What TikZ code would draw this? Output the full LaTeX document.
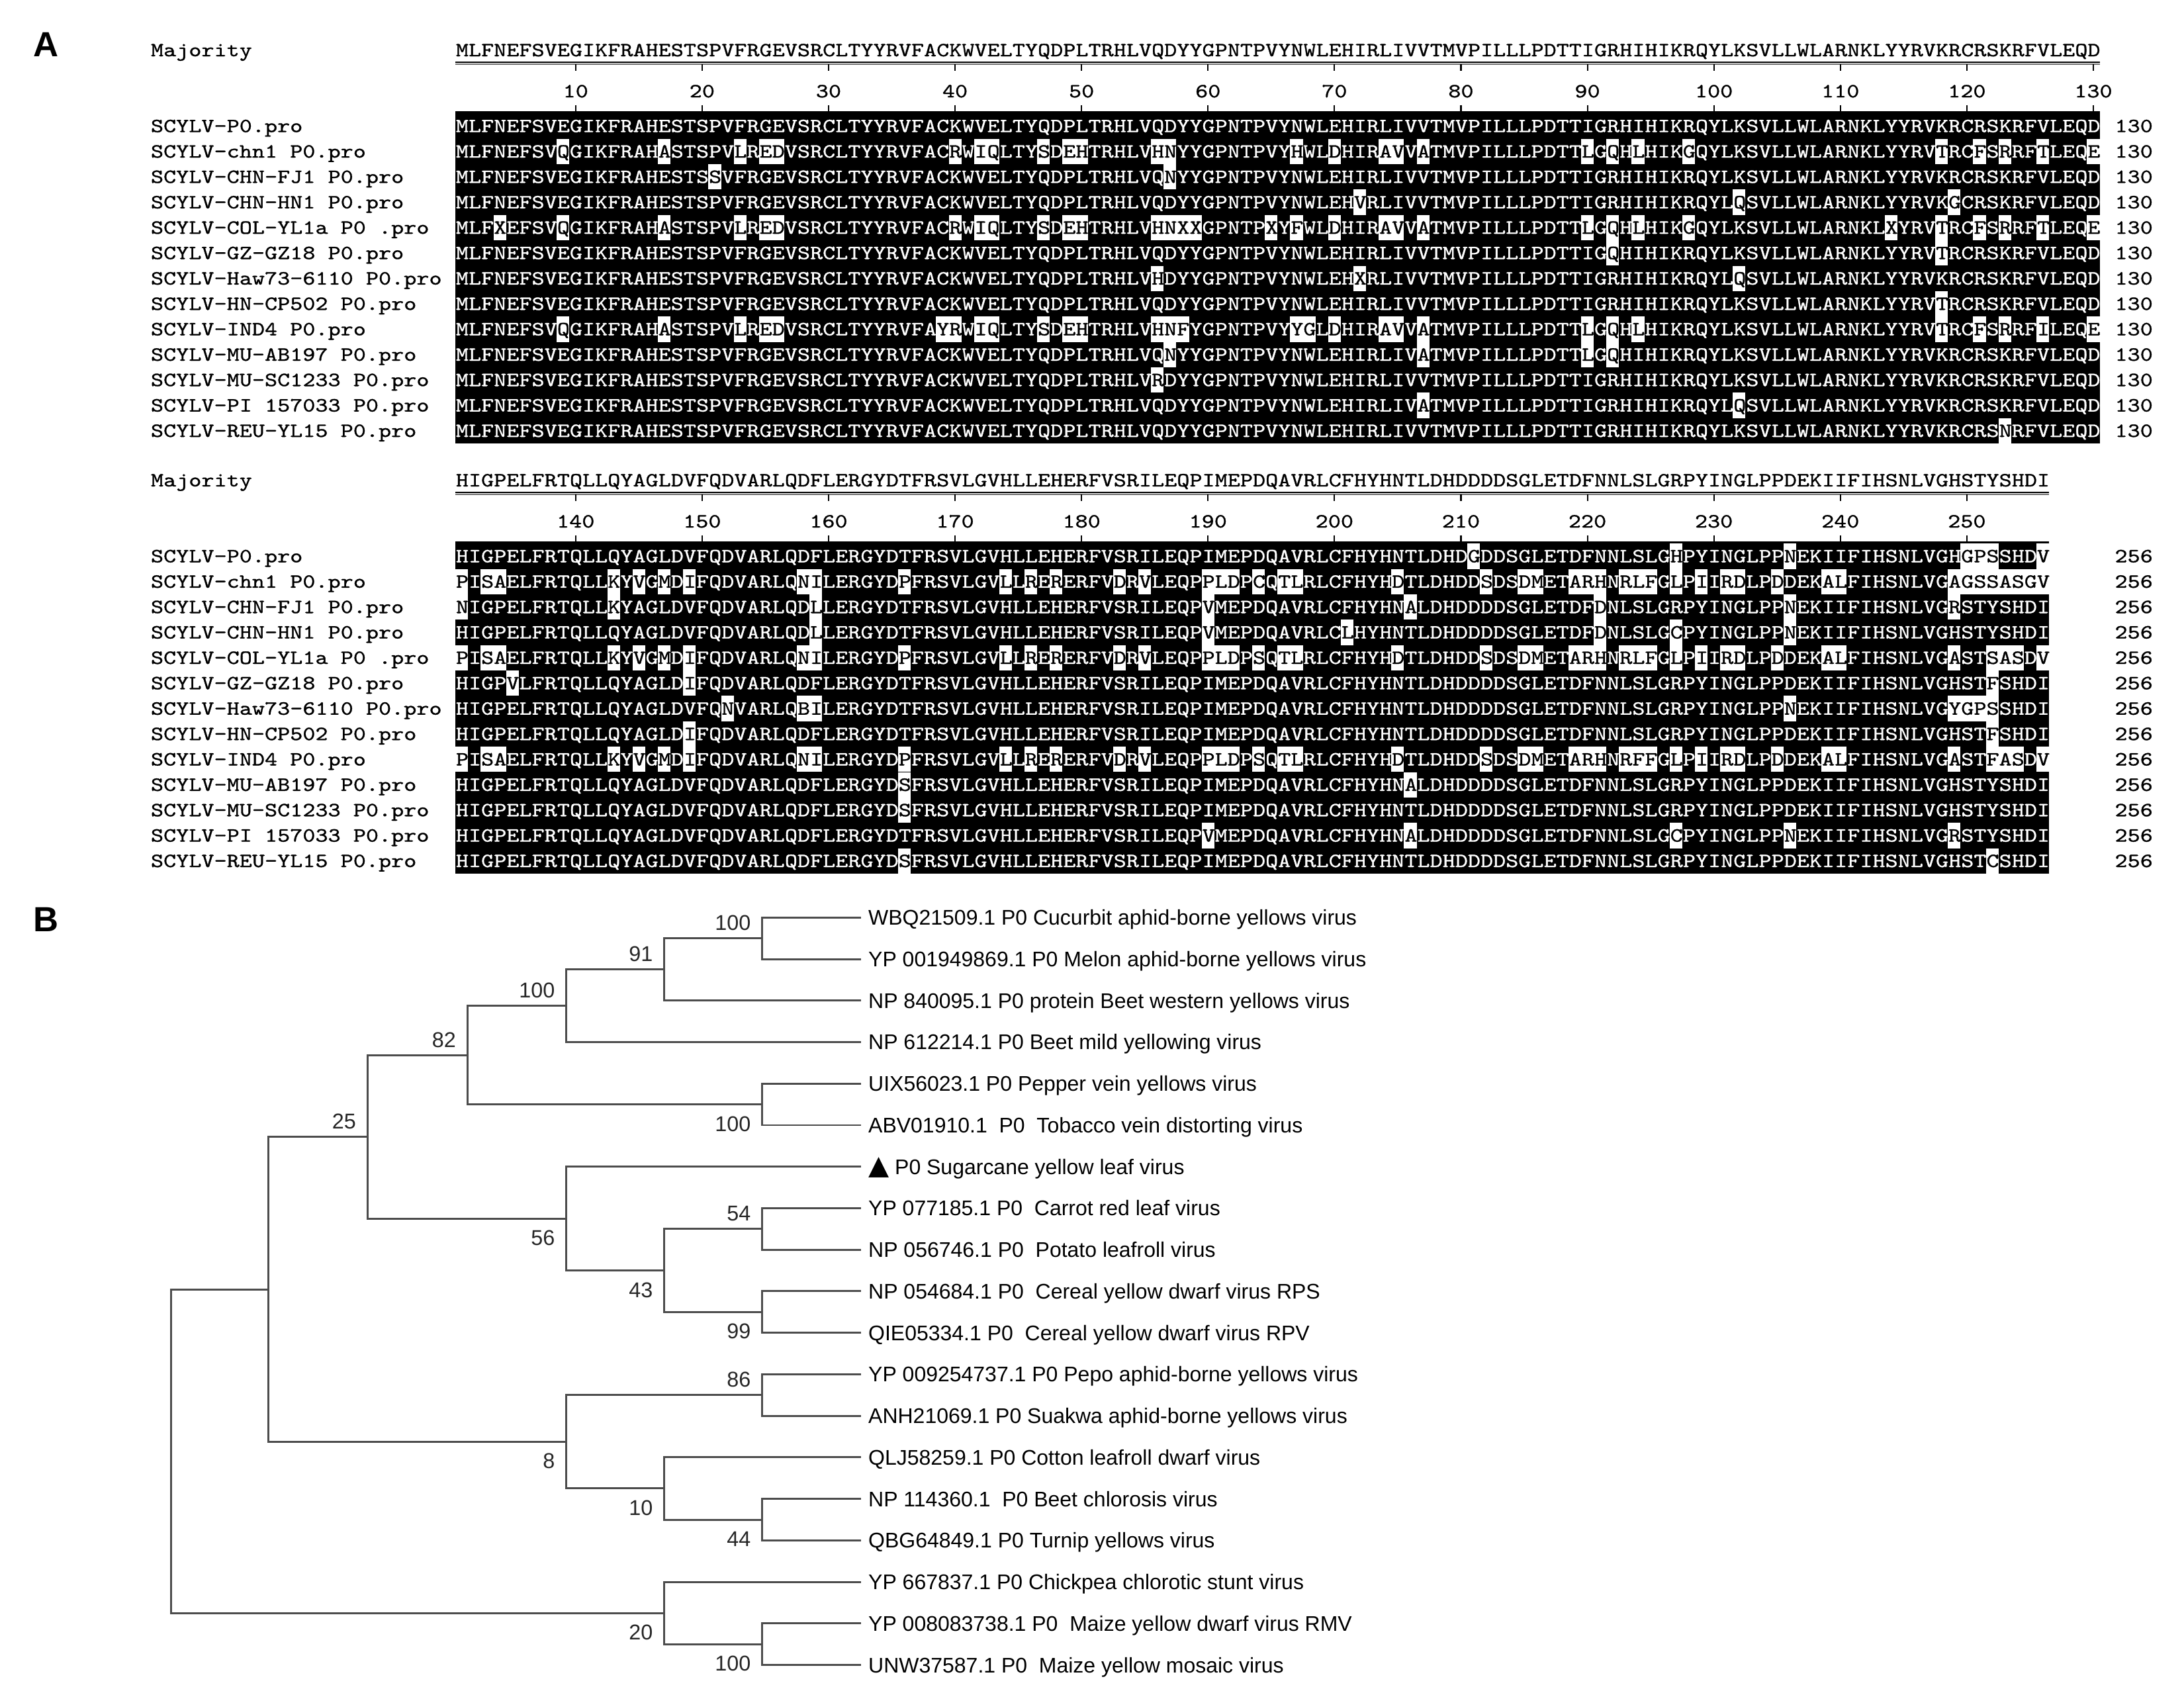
\documentclass[tikz,border=0pt]{standalone}
\usepackage{fontspec}
\setmainfont{Liberation Sans}
\newfontfamily\seqfont{lmmono10-regular.otf}[FakeStretch=1.2,FakeBold=1]
\newfontfamily\symfont{DejaVu Sans}
\usetikzlibrary{positioning,calc}

\newcommand{\majA}{MLFNEFSVEGIKFRAHESTSPVFRGEVSRCLTYYRVFACKWVELTYQDPLTRHLVQDYYGPNTPVYNWLEHIRLIVVTMVPILLLPDTTIGRHIHIKRQYLKSVLLWLARNKLYYRVKRCRSKRFVLEQD}
\newcommand{\majB}{HIGPELFRTQLLQYAGLDVFQDVARLQDFLERGYDTFRSVLGVHLLEHERFVSRILEQPIMEPDQAVRLCFHYHNTLDHDDDDSGLETDFNNLSLGRPYINGLPPDEKIIFIHSNLVGHSTYSHDI}

% one aligned row: majority residues, with the listed pos/residue pairs set in black
\ExplSyntaxOn
\prop_new:N \l_aln_prop
\tl_new:N \l_aln_tl
\clist_new:N \l_aln_clist
\cs_new_protected:Npn \aln_add:w #1/#2 \q_stop
  { \prop_put:Nnn \l_aln_prop {#1} {#2} }
\NewDocumentCommand{\alnrow}{mm}
  {
    \prop_clear:N \l_aln_prop
    \clist_set:No \l_aln_clist {#2}
    \clist_map_inline:Nn \l_aln_clist { \aln_add:w ##1 \q_stop }
    \tl_clear:N \l_aln_tl
    \int_step_inline:nn { \tl_count:N #1 }
      {
        \prop_get:NnNTF \l_aln_prop {##1} \l_tmpa_tl
          { \tl_put_right:Nx \l_aln_tl { \exp_not:N \textcolor{black}{ \exp_not:V \l_tmpa_tl } } }
          { \tl_put_right:Nx \l_aln_tl { \tl_item:Nn #1 {##1} } }
      }
    \tl_use:N \l_aln_tl
  }
\ExplSyntaxOff

\begin{document}
\begin{tikzpicture}[x=0.021046cm, y=-0.021046cm,
        seqtxt/.style={font=\seqfont\fontsize{8.63}{10}\selectfont, inner sep=0pt, anchor=base west},
        res/.style={seqtxt, anchor=base},
        tick/.style={line width=0.6pt},
        leaf/.style={anchor=west, inner xsep=2.9pt, inner ysep=0pt, text height=6.5pt, text depth=0pt, font=\fontsize{9.1}{11}\selectfont},
        boot/.style={anchor=east, inner sep=0pt, text=black!85, font=\fontsize{9.2}{10}\selectfont},
        branch/.style={line width=0.85pt, draw=black!70},
        panel/.style={font=\bfseries\fontsize{15}{18}\selectfont, inner sep=0pt}
    ]
    \fill[white] (0,0) rectangle (1568,1218);
    \useasboundingbox (0,0) rectangle (1568,1218);

    % Panel letters
    \node[panel] (lblA) at (33,32) {A};
    \node[panel] (lblB) at (33,660) {B};

    % Majority lines and rulers
    \foreach \blk/\dy/\maj/\xend in {1/0/\majA/1507.4, 2/308.8/\majB/1471.1} {
        \node[seqtxt] (mj\blk) at (108,{40.4+\dy}) {Majority};
        \node[seqtxt] (ms\blk) at (327,{40.4+\dy}) {\maj};
        \draw[line width=0.5pt] (327,{44.8+\dy}) -- (\xend,{44.8+\dy});
        \draw[line width=0.5pt, black!55] (327,{46.1+\dy}) -- (\xend,{46.1+\dy});
        \fill (327,{80+\dy}) rectangle (\xend,{318.5+\dy});
    }
    \foreach \pos in {10,20,...,130} {
        \draw[tick] ({327+(\pos-0.5)*9.08},46.3) -- ++(0,4.7);
        \draw[tick] ({327+(\pos-0.5)*9.08},75.4) -- ++(0,4.6);
        \node[res] (ra-\pos) at ({327+(\pos-0.5)*9.08},69.9) {\pos};
    }
    \foreach \pos in {10,20,...,120} {
        \pgfmathtruncatemacro\lab{\pos+130}
        \draw[tick] ({327+(\pos-0.5)*9.08},355.1) -- ++(0,4.7);
        \draw[tick] ({327+(\pos-0.5)*9.08},384.2) -- ++(0,4.6);
        \node[res] (rb-\pos) at ({327+(\pos-0.5)*9.08},378.7) {\lab};
    }

    % Block 1: residues 1-130
    \foreach \rw/\nm/\mis in {
            1/SCYLV-P0.pro/{},
            2/SCYLV-chn1 P0.pro/{9/Q,17/A,23/L,25/E,26/D,40/R,42/I,43/Q,47/S,49/E,50/H,56/H,57/N,67/H,70/D,74/A,75/V,77/A,90/L,92/Q,94/L,98/G,118/T,121/F,123/R,126/T,130/E},
            3/SCYLV-CHN-FJ1 P0.pro/{21/S,57/N},
            4/SCYLV-CHN-HN1 P0.pro/{72/V,102/Q,119/G},
            5/SCYLV-COL-YL1a P0 .pro/{4/X,9/Q,17/A,23/L,25/E,26/D,40/R,42/I,43/Q,47/S,49/E,50/H,56/H,57/N,58/X,59/X,65/X,67/F,70/D,74/A,75/V,77/A,90/L,92/Q,94/L,98/G,114/X,118/T,121/F,123/R,126/T,130/E},
            6/SCYLV-GZ-GZ18 P0.pro/{92/Q,118/T},
            7/SCYLV-Haw73-6110 P0.pro/{56/H,72/X,102/Q},
            8/SCYLV-HN-CP502 P0.pro/{118/T},
            9/SCYLV-IND4 P0.pro/{9/Q,17/A,23/L,25/E,26/D,39/Y,40/R,42/I,43/Q,47/S,49/E,50/H,56/H,57/N,58/F,67/Y,68/G,70/D,74/A,75/V,77/A,90/L,92/Q,94/L,118/T,121/F,123/R,126/I,130/E},
            10/SCYLV-MU-AB197 P0.pro/{57/N,77/A,90/L,92/Q},
            11/SCYLV-MU-SC1233 P0.pro/{56/R},
            12/SCYLV-PI 157033 P0.pro/{77/A,102/Q},
            13/SCYLV-REU-YL15 P0.pro/{123/N}} {
        \ifx\mis\empty\else
            \foreach \pos/\ch in \mis
                \fill[white] ({327+(\pos-1)*9.08},{90.5+(\rw-1)*18.23-9.1}) rectangle ++(9.08,18.2);
        \fi
        \node[seqtxt] (nmA-\rw) at (108,{90.5+(\rw-1)*18.23+4.4}) {\nm};
        \node[seqtxt, text=white] (sqA-\rw) at (327,{90.5+(\rw-1)*18.23+4.4}) {\alnrow{\majA}{\mis}};
        \node[seqtxt] (enA-\rw) at (1518,{90.5+(\rw-1)*18.23+4.4}) {130};
    }

    % Block 2: residues 131-256
    \foreach \rw/\nm/\mis in {
            1/SCYLV-P0.pro/{81/G,97/H,106/N,120/G,121/P,122/S,126/V},
            2/SCYLV-chn1 P0.pro/{1/P,3/S,4/A,13/K,15/V,17/M,19/I,28/N,29/I,36/P,44/L,46/R,48/R,53/D,55/V,60/P,61/L,62/D,64/C,66/T,67/L,75/D,82/S,85/D,86/M,89/A,90/R,91/H,93/R,94/L,95/F,97/L,99/I,101/R,102/D,105/D,109/A,110/L,119/A,120/G,121/S,122/S,123/A,124/S,125/G,126/V},
            3/SCYLV-CHN-FJ1 P0.pro/{1/N,13/K,29/L,60/V,76/A,91/D,106/N,119/R},
            4/SCYLV-CHN-HN1 P0.pro/{29/L,60/V,71/L,91/D,97/C,106/N},
            5/SCYLV-COL-YL1a P0 .pro/{1/P,3/S,4/A,13/K,15/V,17/M,19/I,28/N,29/I,36/P,44/L,46/R,48/R,53/D,55/V,60/P,61/L,62/D,64/S,66/T,67/L,75/D,82/S,85/D,86/M,89/A,90/R,91/H,93/R,94/L,95/F,97/L,99/I,101/R,102/D,105/D,109/A,110/L,119/A,122/S,123/A,124/S,126/V},
            6/SCYLV-GZ-GZ18 P0.pro/{5/V,19/I,122/F},
            7/SCYLV-Haw73-6110 P0.pro/{22/N,28/B,29/I,106/N,119/Y,120/G,121/P,122/S},
            8/SCYLV-HN-CP502 P0.pro/{19/I,122/F},
            9/SCYLV-IND4 P0.pro/{1/P,3/S,4/A,13/K,15/V,17/M,19/I,28/N,29/I,36/P,44/L,46/R,48/R,53/D,55/V,60/P,61/L,62/D,64/S,66/T,67/L,75/D,82/S,85/D,86/M,89/A,90/R,91/H,93/R,94/F,95/F,97/L,99/I,101/R,102/D,105/D,109/A,110/L,119/A,122/F,123/A,124/S,126/V},
            10/SCYLV-MU-AB197 P0.pro/{36/S,76/A},
            11/SCYLV-MU-SC1233 P0.pro/{36/S},
            12/SCYLV-PI 157033 P0.pro/{60/V,76/A,97/C,106/N,119/R},
            13/SCYLV-REU-YL15 P0.pro/{36/S,122/C}} {
        \ifx\mis\empty\else
            \foreach \pos/\ch in \mis
                \fill[white] ({327+(\pos-1)*9.08},{399.3+(\rw-1)*18.23-9.1}) rectangle ++(9.08,18.2);
        \fi
        \node[seqtxt] (nmB-\rw) at (108,{399.3+(\rw-1)*18.23+4.4}) {\nm};
        \node[seqtxt, text=white] (sqB-\rw) at (327,{399.3+(\rw-1)*18.23+4.4}) {\alnrow{\majB}{\mis}};
        \node[seqtxt] (enB-\rw) at (1518,{399.3+(\rw-1)*18.23+4.4}) {256};
    }

    % Tree leaves
    \foreach \n/\txt in {1/WBQ21509.1 P0 Cucurbit aphid-borne yellows virus,
            2/YP 001949869.1 P0 Melon aphid-borne yellows virus,
            3/NP 840095.1 P0 protein Beet western yellows virus,
            4/NP 612214.1 P0 Beet mild yellowing virus,
            5/UIX56023.1 P0 Pepper vein yellows virus,
            6/ABV01910.1\ \ P0\ \ Tobacco vein distorting virus,
            7/{\symfont\fontsize{11.5}{11}\selectfont ▲} P0 Sugarcane yellow leaf virus,
            8/YP 077185.1 P0\ \ Carrot red leaf virus,
            9/NP 056746.1 P0\ \ Potato leafroll virus,
            10/NP 054684.1 P0\ \ Cereal yellow dwarf virus RPS,
            11/QIE05334.1 P0\ \ Cereal yellow dwarf virus RPV,
            12/YP 009254737.1 P0 Pepo aphid-borne yellows virus,
            13/ANH21069.1 P0 Suakwa aphid-borne yellows virus,
            14/QLJ58259.1 P0 Cotton leafroll dwarf virus,
            15/NP 114360.1\ \ P0 Beet chlorosis virus,
            16/QBG64849.1 P0 Turnip yellows virus,
            17/YP 667837.1 P0 Chickpea chlorotic stunt virus,
            18/YP 008083738.1 P0\ \ Maize yellow dwarf virus RMV,
            19/UNW37587.1 P0\ \ Maize yellow mosaic virus} {
        \node[leaf] (l\n) at (618.3,{658.7+(\n-1)*29.81}) {\txt};
    }

    % Internal nodes
    \coordinate (n1) at (547.3,673.6);
    \coordinate (n2) at (477,696.0);
    \coordinate (n3) at (406.7,722.0);
    \coordinate (n4) at (547.3,792.9);
    \coordinate (n5) at (335.6,757.4);
    \coordinate (n6) at (547.3,882.3);
    \coordinate (n7) at (547.3,941.9);
    \coordinate (n8) at (477,912.1);
    \coordinate (n9) at (406.7,874.9);
    \coordinate (n10) at (263.9,816.1);
    \coordinate (n11) at (547.3,1001.5);
    \coordinate (n12) at (547.3,1091.0);
    \coordinate (n13) at (477,1068.6);
    \coordinate (n14) at (406.7,1035.0);
    \coordinate (n15) at (192.9,925.6);
    \coordinate (n16) at (547.3,1180.4);
    \coordinate (n17) at (477,1158.0);
    \coordinate (n18) at (122.6,1041.8);

    \foreach \pa/\ch in {n1/l1, n1/l2, n2/n1, n2/l3, n3/n2, n3/l4, n4/l5, n4/l6,
            n5/n3, n5/n4, n6/l8, n6/l9, n7/l10, n7/l11, n8/n6, n8/n7, n9/l7, n9/n8,
            n10/n5, n10/n9, n11/l12, n11/l13, n12/l15, n12/l16, n13/l14, n13/n12,
            n14/n11, n14/n13, n15/n10, n15/n14, n16/l18, n16/l19, n17/l17, n17/n16,
            n18/n15, n18/n17}
        \draw[branch] (\pa) |- (\ch);

    % Bootstrap values
    \foreach \nd/\val/\dy in {n1/100/-11, n2/91/-11, n3/100/-11, n4/100/14, n5/82/-11,
            n6/54/-11, n7/99/14, n8/43/14, n9/56/14, n10/25/-11, n11/86/-11, n12/44/14,
            n13/10/14, n14/8/14, n16/100/14, n17/20/14}
        \node[boot] (bs-\nd) at ($(\nd)+(-8,\dy)$) {\val};
\end{tikzpicture}
\end{document}
